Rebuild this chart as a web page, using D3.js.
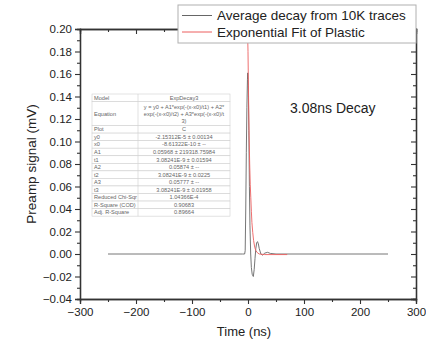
<!DOCTYPE html>
<html>
<head>
<meta charset="utf-8">
<script src="https://cdn.jsdelivr.net/npm/d3@7"></script>
<style>
  body { margin: 0; background: #fff; }
  svg { font-family: "Liberation Sans", Arial, sans-serif; }
</style>
</head>
<body>
<svg id="chart" width="426" height="342"></svg>
<script>
// ---- data ----
const traceTime = [-250, -150, -50, -10, -6, -5, -4, -3, -2, -1, -0.5, 0.5, 1.5, 2.5, 3.5, 4.8, 6, 7.5, 9.5, 11, 12.5, 14, 15.5, 17, 18.5, 20, 23, 26, 30, 35, 40, 50, 100, 150, 200, 250];
const traceSignal = [0, 0, 0, 0, 0, 0.003, 0.04, 0.09, 0.13, 0.155, 0.161, 0.15, 0.11, 0.06, 0.025, 0, -0.012, -0.018, -0.02, -0.014, -0.004, 0.005, 0.01, 0.011, 0.009, 0.005, 0, -0.001, 0.0008, 0.0015, 0.0005, 0, 0, 0, 0, 0];

const fitTime = [-1.5, 0, 1, 2, 3, 4, 5, 6, 7, 8.5, 10, 12, 14, 17, 20, 30, 50, 70];
const fitSignal = [0.215, 0.18, 0.14, 0.105, 0.08, 0.062, 0.05, 0.038, 0.028, 0.019, 0.012, 0.006, 0.003, 0.001, 0, -0.0005, -0.0005, -0.0005];

const legendLabels = ['Average decay from 10K traces', 'Exponential Fit of Plastic'];
const legendColors = ['#666666', '#ec5f5f'];

const xTicks = [-300, -200, -100, 0, 100, 200, 300];
const yTicks = [-0.04, -0.02, 0, 0.02, 0.04, 0.06, 0.08, 0.10, 0.12, 0.14, 0.16, 0.18, 0.20];

const tableParams = ['Model', 'Equation', 'Plot', 'y0', 'x0', 'A1', 't1', 'A2', 't2', 'A3', 't3', 'Reduced Chi-Sqr', 'R-Square (COD)', 'Adj. R-Square'];
const tableValues = [
    ['ExpDecay3'],
    ['y = y0 + A1*exp(-(x-x0)/t1) + A2*', 'exp(-(x-x0)/t2) + A3*exp(-(x-x0)/t', '3)'],
    ['C'],
    ['-2.15312E-5 \u00b1 0.00134'],
    ['-8.61322E-10 \u00b1 --'],
    ['0.05968 \u00b1 219318.75984'],
    ['3.08241E-9 \u00b1 0.01594'],
    ['0.05874 \u00b1 --'],
    ['3.08241E-9 \u00b1 0.0225'],
    ['0.05777 \u00b1 --'],
    ['3.08241E-9 \u00b1 0.01958'],
    ['1.04366E-4'],
    ['0.90683'],
    ['0.89664']
];

// ---- chart ----
const svg = d3.select('#chart');
const plot = { left: 80, right: 416, top: 29, bottom: 299 };

const x = d3.scaleLinear().domain([-300, 300]).range([plot.left, plot.right]);
const y = d3.scaleLinear().domain([-0.04, 0.20]).range([plot.bottom, plot.top]);

svg.append('defs').append('clipPath').attr('id', 'clip')
    .append('rect')
    .attr('x', plot.left).attr('y', plot.top)
    .attr('width', plot.right - plot.left).attr('height', plot.bottom - plot.top);

// minor ticks sit half way between major ones
const xMinor = d3.range(-250, 300, 100);
const yMinor = d3.range(-0.03, 0.2, 0.02);

function styleAxis(g) {
    g.select('.domain').attr('stroke', '#333').attr('stroke-width', 1.3);
    g.selectAll('.tick line').attr('stroke', '#333').attr('stroke-width', 1.1);
    g.selectAll('text').attr('fill', '#222').style('font-size', '11.5px');
}

// bottom
svg.append('g').attr('transform', `translate(0,${plot.bottom})`)
    .call(d3.axisBottom(x).tickValues(xMinor).tickSize(3).tickFormat(''))
    .call(styleAxis);
svg.append('g').attr('transform', `translate(0,${plot.bottom})`)
    .call(d3.axisBottom(x).tickValues(xTicks).tickSize(5).tickPadding(4).tickFormat(d => d3.format('d')(d).replace('-', '\u2212')))
    .call(styleAxis);

// top
svg.append('g').attr('transform', `translate(0,${plot.top})`)
    .call(d3.axisTop(x).tickValues(xMinor).tickSize(-3).tickFormat(''))
    .call(styleAxis);
svg.append('g').attr('transform', `translate(0,${plot.top})`)
    .call(d3.axisTop(x).tickValues(xTicks).tickSize(-5).tickFormat(''))
    .call(styleAxis);

// left
svg.append('g').attr('transform', `translate(${plot.left},0)`)
    .call(d3.axisLeft(y).tickValues(yMinor).tickSize(3).tickFormat(''))
    .call(styleAxis);
svg.append('g').attr('transform', `translate(${plot.left},0)`)
    .call(d3.axisLeft(y).tickValues(yTicks).tickSize(5).tickPadding(3).tickFormat(d => d3.format('.2f')(d).replace('-', '\u2212')))
    .call(styleAxis);

// right
svg.append('g').attr('transform', `translate(${plot.right},0)`)
    .call(d3.axisRight(y).tickValues(yMinor).tickSize(-3).tickFormat(''))
    .call(styleAxis);
svg.append('g').attr('transform', `translate(${plot.right},0)`)
    .call(d3.axisRight(y).tickValues(yTicks).tickSize(-5).tickFormat(''))
    .call(styleAxis);

// axis titles
svg.append('text')
    .attr('x', (plot.left + plot.right) / 2 - 4).attr('y', 336)
    .attr('text-anchor', 'middle')
    .style('font-size', '13px').attr('fill', '#222')
    .text('Time (ns)');

svg.append('text')
    .attr('transform', `translate(36,${(plot.top + plot.bottom) / 2}) rotate(-90)`)
    .attr('text-anchor', 'middle')
    .style('font-size', '13.5px').attr('fill', '#222')
    .text('Preamp signal (mV)');

// ---- fit table ----
const table = svg.append('g').attr('class', 'fit-table');
const tLeft = 92, tMid = 138, tRight = 230, tTop = 94;
const rowH = 7.55;
let rowY = tTop;
tableParams.forEach((p, i) => {
    const lines = tableValues[i];
    const h = lines.length > 1 ? 24 : rowH;
    table.append('rect')
        .attr('x', tLeft).attr('y', rowY)
        .attr('width', tRight - tLeft).attr('height', h)
        .attr('fill', '#fff').attr('stroke', '#cfcfcf').attr('stroke-width', 0.6);
    table.append('line')
        .attr('x1', tMid).attr('x2', tMid).attr('y1', rowY).attr('y2', rowY + h)
        .attr('stroke', '#cfcfcf').attr('stroke-width', 0.6);
    table.append('text')
        .attr('x', tLeft + 2).attr('y', rowY + h / 2 + 2)
        .style('font-size', '5.6px').attr('fill', '#666')
        .text(p);
    lines.forEach((ln, j) => {
        table.append('text')
            .attr('x', (tMid + tRight) / 2)
            .attr('y', rowY + h / 2 + 2 + (j - (lines.length - 1) / 2) * 7)
            .attr('text-anchor', 'middle')
            .style('font-size', '5.6px').attr('fill', '#666')
            .text(ln);
    });
    rowY += h;
});

// ---- lines ----
const lineGen = d3.line().x(d => x(d[0])).y(d => y(d[1]));
const traceData = d3.zip(traceTime, traceSignal);
const fitData = d3.zip(fitTime, fitSignal);

const lines = svg.append('g').attr('clip-path', 'url(#clip)');
lines.append('path')
    .datum(traceData)
    .attr('d', lineGen)
    .attr('fill', 'none')
    .attr('stroke', legendColors[0])
    .attr('stroke-width', 0.9);
lines.append('path')
    .datum(fitData)
    .attr('d', lineGen)
    .attr('fill', 'none')
    .attr('stroke', legendColors[1])
    .attr('stroke-width', 0.9);

// annotation
svg.append('text')
    .attr('x', 290).attr('y', 113)
    .style('font-size', '14px').attr('fill', '#222')
    .text('3.08ns Decay');

// ---- legend ----
const legend = svg.append('g').attr('class', 'legend');
legend.append('rect')
    .attr('x', 178).attr('y', 5)
    .attr('width', 238).attr('height', 38)
    .attr('fill', '#fff').attr('stroke', '#b0b0b0').attr('stroke-width', 1);
legendLabels.forEach((label, i) => {
    const ly = 15.5 + i * 16.5;
    legend.append('line')
        .attr('x1', 182).attr('x2', 212).attr('y1', ly).attr('y2', ly)
        .attr('stroke', legendColors[i]).attr('stroke-width', 1);
    legend.append('text')
        .attr('x', 217).attr('y', ly + 4.8)
        .style('font-size', '13.5px').attr('fill', '#222')
        .text(label);
});
</script>
</body>
</html>
